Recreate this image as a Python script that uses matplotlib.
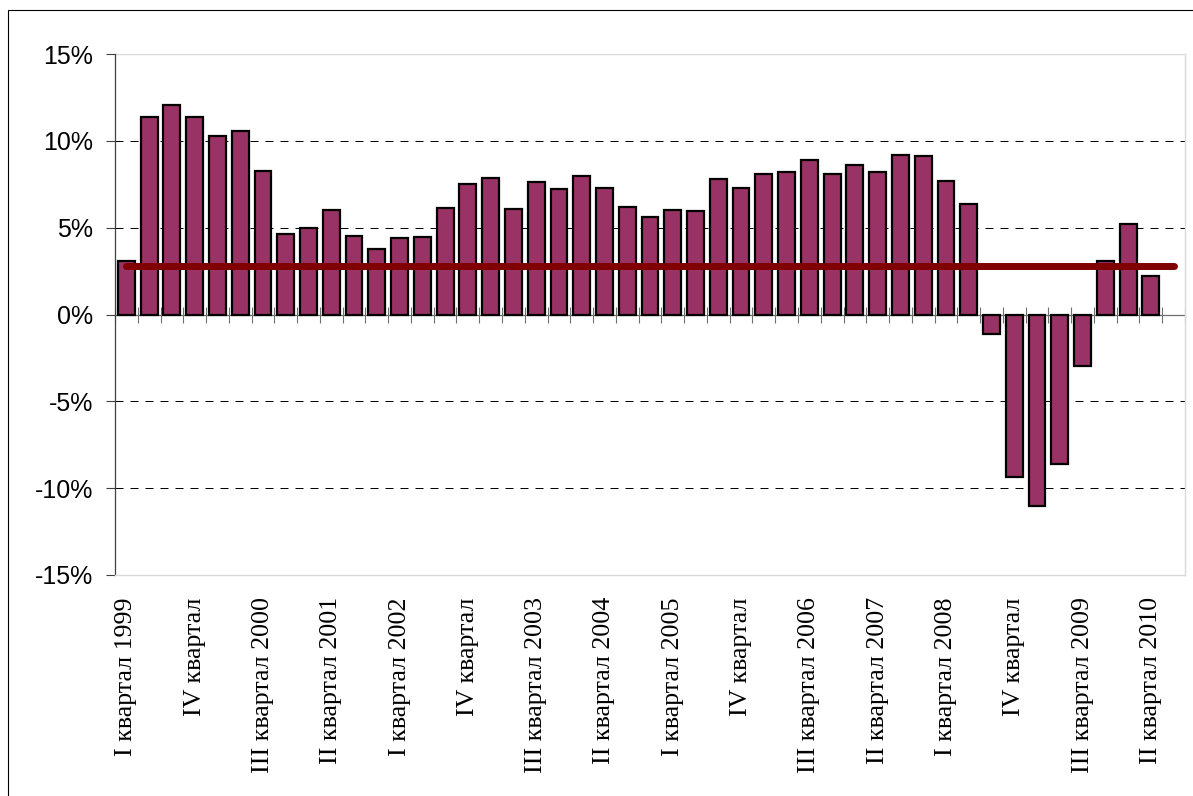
import matplotlib
matplotlib.use("Agg")
import matplotlib.pyplot as plt
from matplotlib.patches import Rectangle
from matplotlib.ticker import FixedLocator, FuncFormatter
import numpy as np

# ---- data ----
years = list(range(1999, 2011))
quarters = ["I", "II", "III", "IV"]
# 47 category slots: I кв. 1999 ... III кв. 2010 (last slot has no value)
categories = [f"{q} квартал {y}" for y in years for q in quarters][:47]

growth = [3.1, 11.4, 12.05, 11.4, 10.25, 10.55, 8.25, 4.65, 5.0, 6.0,
          4.5, 3.8, 4.4, 4.45, 6.15, 7.5, 7.85, 6.1, 7.65, 7.2,
          8.0, 7.3, 6.2, 5.6, 6.0, 5.95, 7.8, 7.3, 8.1, 8.2,
          8.9, 8.1, 8.6, 8.2, 9.2, 9.1, 7.7, 6.35, -1.1, -9.35,
          -11.05, -8.6, -2.95, 3.1, 5.2, 2.2]

average_level = 2.8

tick_positions = list(range(0, 46, 3))
tick_labels = ["I квартал 1999", "IV квартал", "III квартал 2000", "II квартал 2001",
               "I квартал 2002", "IV квартал", "III квартал 2003", "II квартал 2004",
               "I квартал 2005", "IV квартал", "III квартал 2006", "II квартал 2007",
               "I квартал 2008", "IV квартал", "III квартал 2009", "II квартал 2010"]

y_ticks = [-15, -10, -5, 0, 5, 10, 15]

# ---- figure ----
W, H = 1193, 796
fig = plt.figure(figsize=(W / 100, H / 100), dpi=100)
fig.patch.set_facecolor("white")
ax = fig.add_axes([115 / W, 1 - 575 / H, 1070 / W, 521 / H])

n_slots = len(categories)
ax.set_xlim(-0.5, n_slots - 0.5)
ax.set_ylim(-15, 15)

# gridlines
for v in y_ticks:
    if v in (-15, 0, 15):
        continue
    ax.axhline(v, color="black", lw=0.72, linestyle=(0, (8, 7)), zorder=1)

# bars
x = np.arange(len(growth))
ax.bar(x, growth, width=0.74, color="#993366", edgecolor="black",
       linewidth=1.6, zorder=3)

# average line
ax.hlines(average_level, 0, n_slots - 1, colors="#800000", linewidth=5,
          capstyle="round", zorder=4)

# spines
for s in ("right", "bottom"):
    ax.spines[s].set_color("#D9D9D9")
    ax.spines[s].set_linewidth(1)
ax.spines["left"].set_color("#404040")
ax.spines["left"].set_linewidth(0.9)
ax.spines["top"].set_position(("data", 0))
ax.spines["top"].set_color("#707070")
ax.spines["top"].set_linewidth(0.9)
ax.spines["top"].set_zorder(2)
ax.axhline(15, color="#D9D9D9", lw=1, zorder=0.5)

# y ticks
ax.set_yticks(y_ticks)
ax.yaxis.set_major_formatter(FuncFormatter(lambda v, p: f"{int(v)}%".replace("\u2212", "-")))
ax.tick_params(axis="y", direction="out", length=6.5, width=0.8, color="#404040",
               pad=9, labelsize=18, right=False)
for lab in ax.get_yticklabels():
    lab.set_fontfamily("Liberation Sans")

# x ticks
ax.xaxis.set_major_locator(FixedLocator(tick_positions))
ax.set_xticklabels(tick_labels, rotation=90, va="top", ha="center",
                   fontfamily="Liberation Serif", fontsize=18.7)
ax.xaxis.set_minor_locator(FixedLocator(np.arange(-0.5, n_slots, 1.0)))
ax.tick_params(axis="x", which="major", bottom=True, top=False, length=0, pad=16,
               labeltop=False, labelbottom=True)
ax.tick_params(axis="x", which="minor", bottom=False, top=True, direction="inout",
               length=11.5, width=0.8, color="#707070", labeltop=False)

# outer chart border
fig.patches.append(Rectangle((8 / W, -0.1), 2, 1 - 10 / H + 0.1,
                             transform=fig.transFigure, fill=False,
                             edgecolor="black", linewidth=0.8))

fig.savefig("out.png", dpi=100)
